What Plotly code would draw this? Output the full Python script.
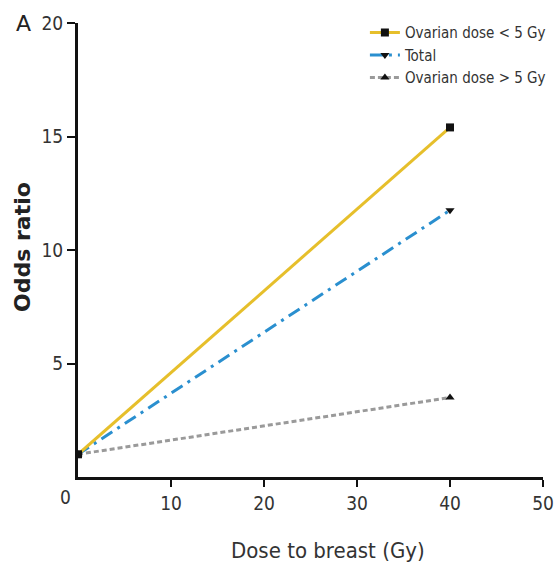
import plotly.graph_objects as go

dose = [0, 40]
or_low = [1, 15.4]
or_total = [1, 11.75]
or_high = [1, 3.5]

series_names = ["Ovarian dose < 5 Gy", "Total", "Ovarian dose > 5 Gy"]

x_ticks = [10, 20, 30, 40, 50]
y_ticks = [5, 10, 15, 20]

FONT = "DejaVu Sans Condensed, Liberation Sans Narrow, sans-serif"

fig = go.Figure()

fig.add_trace(go.Scatter(
    x=dose, y=or_high, name=series_names[2], mode="lines+markers",
    line=dict(color="#9a9a9a", width=3, dash="5px,3px"),
    marker=dict(symbol="triangle-up", size=8, color="#111111"),
    legendrank=3,
))
fig.add_trace(go.Scatter(
    x=dose, y=or_total, name=series_names[1], mode="lines+markers",
    line=dict(color="#2a8fcf", width=3, dash="13px,6px,3px,6px"),
    marker=dict(symbol="triangle-down", size=8, color="#111111"),
    legendrank=2,
))
fig.add_trace(go.Scatter(
    x=dose, y=or_low, name=series_names[0], mode="lines+markers",
    line=dict(color="#e6bf2b", width=3),
    marker=dict(symbol="square", size=8, color="#111111"),
    legendrank=1,
))

fig.update_layout(
    width=554, height=572,
    margin=dict(l=78, r=11, t=23, b=95, autoexpand=False),
    paper_bgcolor="white", plot_bgcolor="white",
    font=dict(family=FONT, color="#333333", size=16),
    showlegend=True,
    legend=dict(
        x=0.617, y=1.015, xanchor="left", yanchor="top",
        font=dict(family=FONT, size=15, color="#333333"),
        bgcolor="rgba(0,0,0,0)", tracegroupgap=0,
        itemwidth=30,
    ),
    xaxis=dict(
        range=[0, 50], tickvals=x_ticks, ticktext=[str(v) for v in x_ticks],
        showgrid=False, zeroline=False, showline=True, linecolor="#111111", linewidth=3,
        ticks="outside", ticklen=7, tickwidth=2, tickcolor="#111111",
        tickfont=dict(family=FONT, size=19, color="#333333"),
    ),
    yaxis=dict(
        range=[0, 20], tickvals=y_ticks, ticktext=[str(v) for v in y_ticks],
        showgrid=False, zeroline=False, showline=True, linecolor="#111111", linewidth=3,
        ticks="outside", ticklen=8, tickwidth=2, tickcolor="#111111",
        tickfont=dict(family=FONT, size=19, color="#333333"),
    ),
    annotations=[
        dict(text="0", xref="paper", yref="paper", x=0, y=0, xshift=-13, yshift=-20,
             showarrow=False, xanchor="center", yanchor="middle",
             font=dict(family=FONT, size=19, color="#333333")),
        dict(text="A", xref="paper", yref="paper", x=0, y=1, xshift=-64, yshift=0,
             showarrow=False, xanchor="left", yanchor="middle",
             font=dict(family="DejaVu Sans, sans-serif", size=22, color="#222222")),
        dict(text="Dose to breast (Gy)", xref="paper", yref="paper", x=0.5, y=0,
             xshift=17, yshift=-73, showarrow=False, xanchor="center", yanchor="middle",
             font=dict(family=FONT, size=22, color="#333333")),
        dict(text="<b>Odds ratio</b>", xref="paper", yref="paper", x=0, y=0.5,
             xshift=-56, yshift=3, textangle=-90, showarrow=False,
             xanchor="center", yanchor="middle",
             font=dict(family="DejaVu Sans, sans-serif", size=22, color="#222222")),
    ],
)

fig.write_html(
    "out.html",
    config={"displayModeBar": False},
    post_script="document.body.style.margin='0';document.body.style.overflow='hidden';",
)
